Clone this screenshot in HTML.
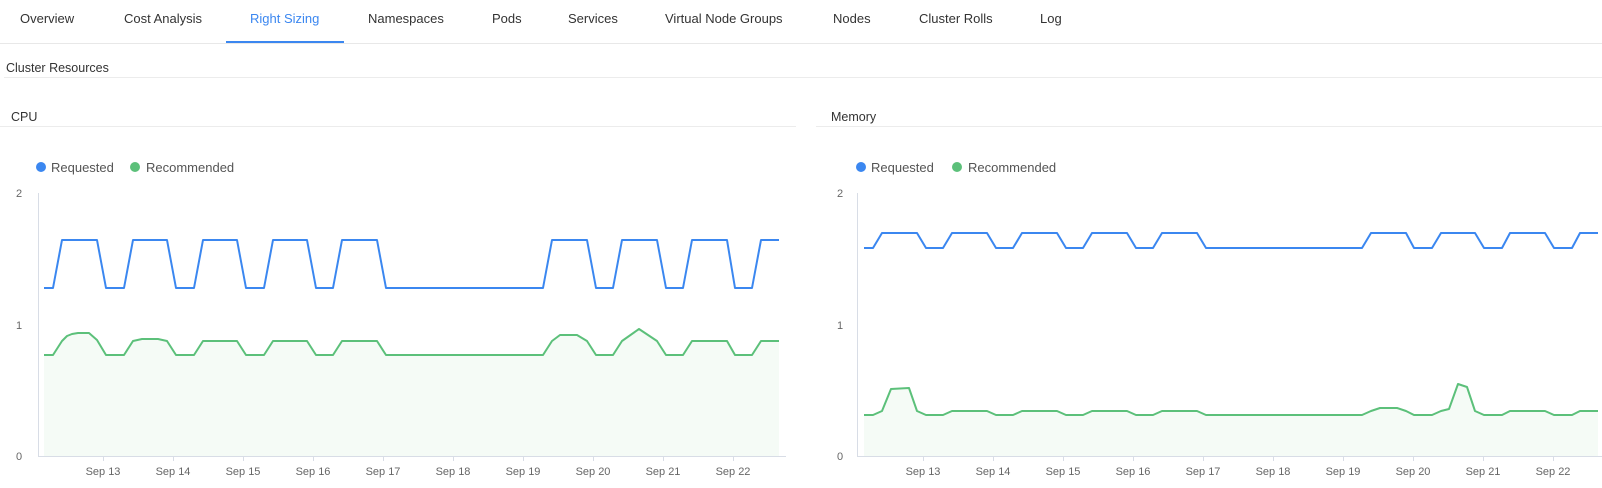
<!DOCTYPE html>
<html><head><meta charset="utf-8"><style>
html,body{margin:0;padding:0;background:#fff;width:1602px;height:488px;overflow:hidden}
svg{display:block;font-family:"Liberation Sans",sans-serif}
</style></head><body>
<svg width="1602" height="488" viewBox="0 0 1602 488" xmlns="http://www.w3.org/2000/svg">
<g font-size="13" fill="#333">
<text x="20" y="23">Overview</text>
<text x="124" y="23">Cost Analysis</text>
<text x="250" y="23" fill="#3b87f0">Right Sizing</text>
<text x="368" y="23">Namespaces</text>
<text x="492" y="23">Pods</text>
<text x="568" y="23">Services</text>
<text x="665" y="23">Virtual Node Groups</text>
<text x="833" y="23">Nodes</text>
<text x="919" y="23">Cluster Rolls</text>
<text x="1040" y="23">Log</text>
</g>
<rect x="0" y="43" width="1602" height="1" fill="#e8e8e8"/>
<rect x="226" y="41" width="118" height="2" fill="#3b87f0"/>
<text x="6" y="72" font-size="12.5" fill="#333">Cluster Resources</text>
<rect x="4" y="77" width="1598" height="1" fill="#ececec"/>
<text x="11" y="121" font-size="12.5" fill="#333">CPU</text>
<rect x="0" y="126" width="796" height="1" fill="#ececec"/>
<text x="831" y="121" font-size="12.5" fill="#333">Memory</text>
<rect x="816" y="126" width="786" height="1" fill="#ececec"/>
<!-- legends -->
<g font-size="13" fill="#555">
<circle cx="41" cy="167" r="5" fill="#3b87f0"/><text x="51" y="172">Requested</text>
<circle cx="135" cy="167" r="5" fill="#5cc07a"/><text x="146" y="172">Recommended</text>
<circle cx="861" cy="167" r="5" fill="#3b87f0"/><text x="871" y="172">Requested</text>
<circle cx="957" cy="167" r="5" fill="#5cc07a"/><text x="968" y="172">Recommended</text>
</g>
<!-- CPU axes -->
<g fill="#666" font-size="11">
<text x="16" y="197">2</text><text x="16" y="329">1</text><text x="16" y="460">0</text>
<text x="837" y="197">2</text><text x="837" y="329">1</text><text x="837" y="460">0</text>
</g>
<g stroke="#d8dde6" stroke-width="1" fill="none">
<path d="M38.5 193V456.5H786"/>
<path d="M857.5 193V456.5H1602"/>
<path d="M103.5 456v5M173.5 456v5M243.5 456v5M313.5 456v5M383.5 456v5M453.5 456v5M523.5 456v5M593.5 456v5M663.5 456v5M733.5 456v5"/>
<path d="M923.5 456v5M993.5 456v5M1063.5 456v5M1133.5 456v5M1203.5 456v5M1273.5 456v5M1343.5 456v5M1413.5 456v5M1483.5 456v5M1553.5 456v5"/>
</g>
<g fill="#666" font-size="11" text-anchor="middle">
<text x="103" y="475">Sep 13</text><text x="173" y="475">Sep 14</text><text x="243" y="475">Sep 15</text><text x="313" y="475">Sep 16</text><text x="383" y="475">Sep 17</text><text x="453" y="475">Sep 18</text><text x="523" y="475">Sep 19</text><text x="593" y="475">Sep 20</text><text x="663" y="475">Sep 21</text><text x="733" y="475">Sep 22</text>
<text x="923" y="475">Sep 13</text><text x="993" y="475">Sep 14</text><text x="1063" y="475">Sep 15</text><text x="1133" y="475">Sep 16</text><text x="1203" y="475">Sep 17</text><text x="1273" y="475">Sep 18</text><text x="1343" y="475">Sep 19</text><text x="1413" y="475">Sep 20</text><text x="1483" y="475">Sep 21</text><text x="1553" y="475">Sep 22</text>
</g>
<!-- CPU series -->
<path fill="#f5fbf6" d="M44 456L44 355L53 355L62 341L67 336L72 334L78 333L89 333L97 340L106 355L124 355L133 341L142 339L158 339L167 341L176 355L194 355L203 341L237 341L246 355L264 355L273 341L307 341L316 355L333 355L342 341L377 341L386 355L543 355L552 341L560 335L577 335L587 341L596 355L613 355L622 341L639 329L657 341L666 355L683 355L692 341L727 341L735 355L752 355L761 341L779 341L779 456Z"/>
<path fill="none" stroke="#5cc07a" stroke-width="2" stroke-linejoin="round" d="M44 355L53 355L62 341L67 336L72 334L78 333L89 333L97 340L106 355L124 355L133 341L142 339L158 339L167 341L176 355L194 355L203 341L237 341L246 355L264 355L273 341L307 341L316 355L333 355L342 341L377 341L386 355L543 355L552 341L560 335L577 335L587 341L596 355L613 355L622 341L639 329L657 341L666 355L683 355L692 341L727 341L735 355L752 355L761 341L779 341"/>
<path fill="none" stroke="#3b87f0" stroke-width="2" stroke-linejoin="round" d="M44 288L53 288L62 240L97 240L106 288L124 288L133 240L167 240L176 288L194 288L203 240L237 240L246 288L264 288L273 240L307 240L316 288L333 288L342 240L377 240L386 288L543 288L552 240L587 240L596 288L613 288L622 240L657 240L666 288L683 288L692 240L727 240L735 288L752 288L761 240L779 240"/>
<!-- Memory series -->
<path fill="#f5fbf6" d="M864 456L864 415L873 415L882 411L891 389L909 388L917 411L926 415L943 415L952 411L987 411L996 415L1013 415L1022 411L1057 411L1066 415L1083 415L1092 411L1127 411L1136 415L1153 415L1162 411L1197 411L1206 415L1362 415L1371 411L1380 408L1397 408L1406 411L1414 415L1432 415L1441 411L1449 409L1458 384L1467 387L1475 411L1484 415L1502 415L1510 411L1545 411L1554 415L1572 415L1580 411L1598 411L1598 456Z"/>
<path fill="none" stroke="#5cc07a" stroke-width="2" stroke-linejoin="round" d="M864 415L873 415L882 411L891 389L909 388L917 411L926 415L943 415L952 411L987 411L996 415L1013 415L1022 411L1057 411L1066 415L1083 415L1092 411L1127 411L1136 415L1153 415L1162 411L1197 411L1206 415L1362 415L1371 411L1380 408L1397 408L1406 411L1414 415L1432 415L1441 411L1449 409L1458 384L1467 387L1475 411L1484 415L1502 415L1510 411L1545 411L1554 415L1572 415L1580 411L1598 411"/>
<path fill="none" stroke="#3b87f0" stroke-width="2" stroke-linejoin="round" d="M864 248L873 248L882 233L917 233L926 248L943 248L952 233L987 233L996 248L1013 248L1022 233L1057 233L1066 248L1083 248L1092 233L1127 233L1136 248L1153 248L1162 233L1197 233L1206 248L1362 248L1371 233L1406 233L1414 248L1432 248L1441 233L1475 233L1484 248L1502 248L1510 233L1545 233L1554 248L1572 248L1580 233L1598 233"/>
</svg>
</body></html>
